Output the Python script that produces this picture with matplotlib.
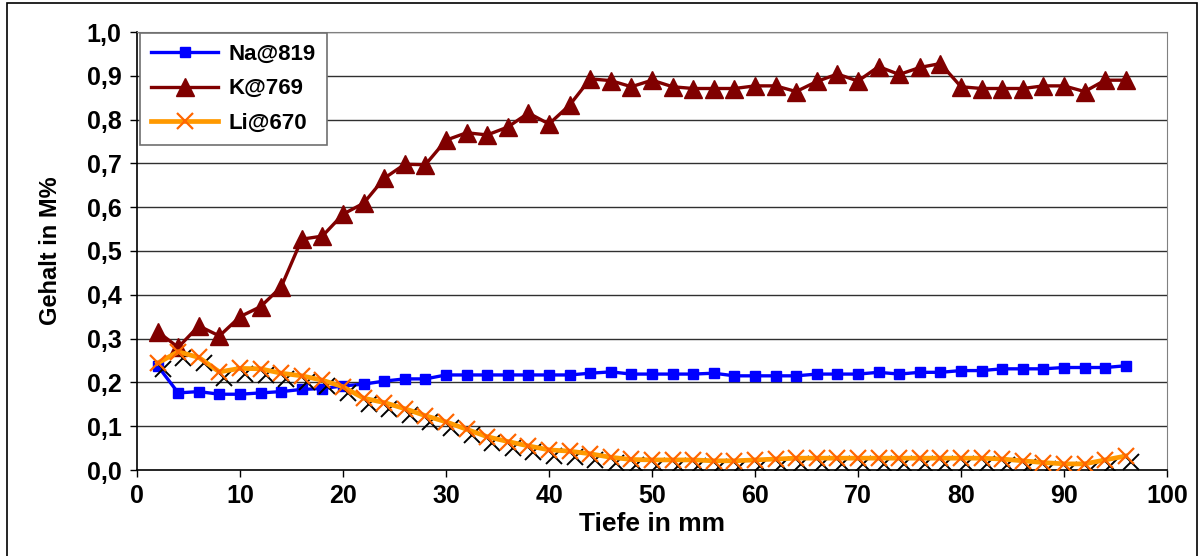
import matplotlib
matplotlib.use("Agg")
import matplotlib.pyplot as plt
from matplotlib.patches import Rectangle
from matplotlib.transforms import offset_copy

plt.rcParams["font.family"] = ["Liberation Sans", "DejaVu Sans"]
plt.rcParams["font.weight"] = "bold"

# depth in mm (every 2 mm)
depth = list(range(2, 97, 2))

na_819 = [0.238, 0.176, 0.179, 0.173, 0.173, 0.176, 0.179, 0.184, 0.186, 0.192,
          0.196, 0.203, 0.208, 0.208, 0.217, 0.217, 0.217, 0.217, 0.217, 0.217,
          0.217, 0.221, 0.224, 0.219, 0.219, 0.219, 0.219, 0.221, 0.215, 0.215,
          0.215, 0.215, 0.219, 0.219, 0.219, 0.223, 0.219, 0.223, 0.223, 0.227,
          0.227, 0.231, 0.231, 0.231, 0.234, 0.234, 0.234, 0.238]

k_769 = [0.316, 0.280, 0.329, 0.306, 0.350, 0.373, 0.418, 0.527, 0.534, 0.584,
         0.609, 0.666, 0.698, 0.697, 0.753, 0.770, 0.765, 0.783, 0.815, 0.790,
         0.833, 0.893, 0.889, 0.875, 0.890, 0.875, 0.871, 0.871, 0.871, 0.877,
         0.877, 0.864, 0.887, 0.904, 0.888, 0.921, 0.903, 0.919, 0.928, 0.875,
         0.871, 0.871, 0.871, 0.877, 0.877, 0.864, 0.890, 0.890]

li_670 = [0.244, 0.270, 0.257, 0.224, 0.232, 0.231, 0.221, 0.215, 0.205, 0.190,
          0.164, 0.154, 0.140, 0.124, 0.110, 0.093, 0.076, 0.065, 0.055, 0.046,
          0.043, 0.037, 0.029, 0.024, 0.023, 0.023, 0.023, 0.021, 0.021, 0.023,
          0.025, 0.027, 0.027, 0.027, 0.027, 0.027, 0.027, 0.027, 0.027, 0.027,
          0.027, 0.025, 0.021, 0.017, 0.014, 0.014, 0.023, 0.032]

y_ticks = [i / 10 for i in range(11)]
y_labels = [f"{v:.1f}".replace(".", ",") for v in y_ticks]
x_ticks = list(range(0, 101, 10))

fig = plt.figure(figsize=(12.01, 5.56), dpi=100)
ax = fig.add_axes([137 / 1201, 1 - 470 / 556, 1030 / 1201, 438 / 556])

# outer chart frame
fig.patches.append(Rectangle((7 / 1201, -0.01), 1190 / 1201, 1.0 - 3 / 556 + 0.01,
                             transform=fig.transFigure, fill=False,
                             edgecolor="black", linewidth=1.2))

for v in y_ticks[1:]:
    ax.axhline(v, color="#303030", linewidth=1.0, zorder=1)

ax.plot(depth, na_819, color="#0000FF", linewidth=2.4, marker="s",
        markersize=7, label="Na@819", zorder=3)
ax.plot(depth, k_769, color="#800000", linewidth=2.4, marker="^",
        markersize=13, label="K@769", zorder=4)
# shadow of the Li crosses, shifted right/down
shadow = offset_copy(ax.transData, fig=fig, x=5, y=-6, units="dots")
ax.plot(depth, li_670, linestyle="none", marker="x", markersize=11,
        markeredgewidth=1.4, color="black", transform=shadow, zorder=5)
ax.plot(depth, li_670, color="#FF9900", linewidth=3.4, marker="x",
        markersize=11, markeredgewidth=1.6, markeredgecolor="#FF6600",
        label="Li@670", zorder=6)

ax.set_xlim(0, 100)
ax.set_ylim(0, 1.0)
ax.set_xticks(x_ticks)
ax.set_yticks(y_ticks)
ax.set_yticklabels(y_labels)
ax.tick_params(axis="both", direction="out", length=5, width=1, labelsize=18)
ax.tick_params(axis="x", pad=5)
ax.tick_params(axis="y", pad=6)
ax.set_xlabel("Tiefe in mm", fontsize=19, fontweight="bold", labelpad=3)
ax.set_ylabel("Gehalt in M%", fontsize=17, fontweight="bold", labelpad=18)

for side in ("top", "right"):
    ax.spines[side].set_color("#808080")
ax.spines["left"].set_linewidth(1.2)
ax.spines["bottom"].set_linewidth(1.2)

leg = ax.legend(loc="upper left", bbox_to_anchor=(0.003, 0.998),
                borderaxespad=0, fontsize=16, handlelength=3.0,
                fancybox=False, framealpha=1, edgecolor="#707070",
                borderpad=0.5, labelspacing=0.6, handletextpad=0.5)
leg.get_frame().set_linewidth(1.2)
leg.set_zorder(10)

fig.savefig("out.png", dpi=100)
